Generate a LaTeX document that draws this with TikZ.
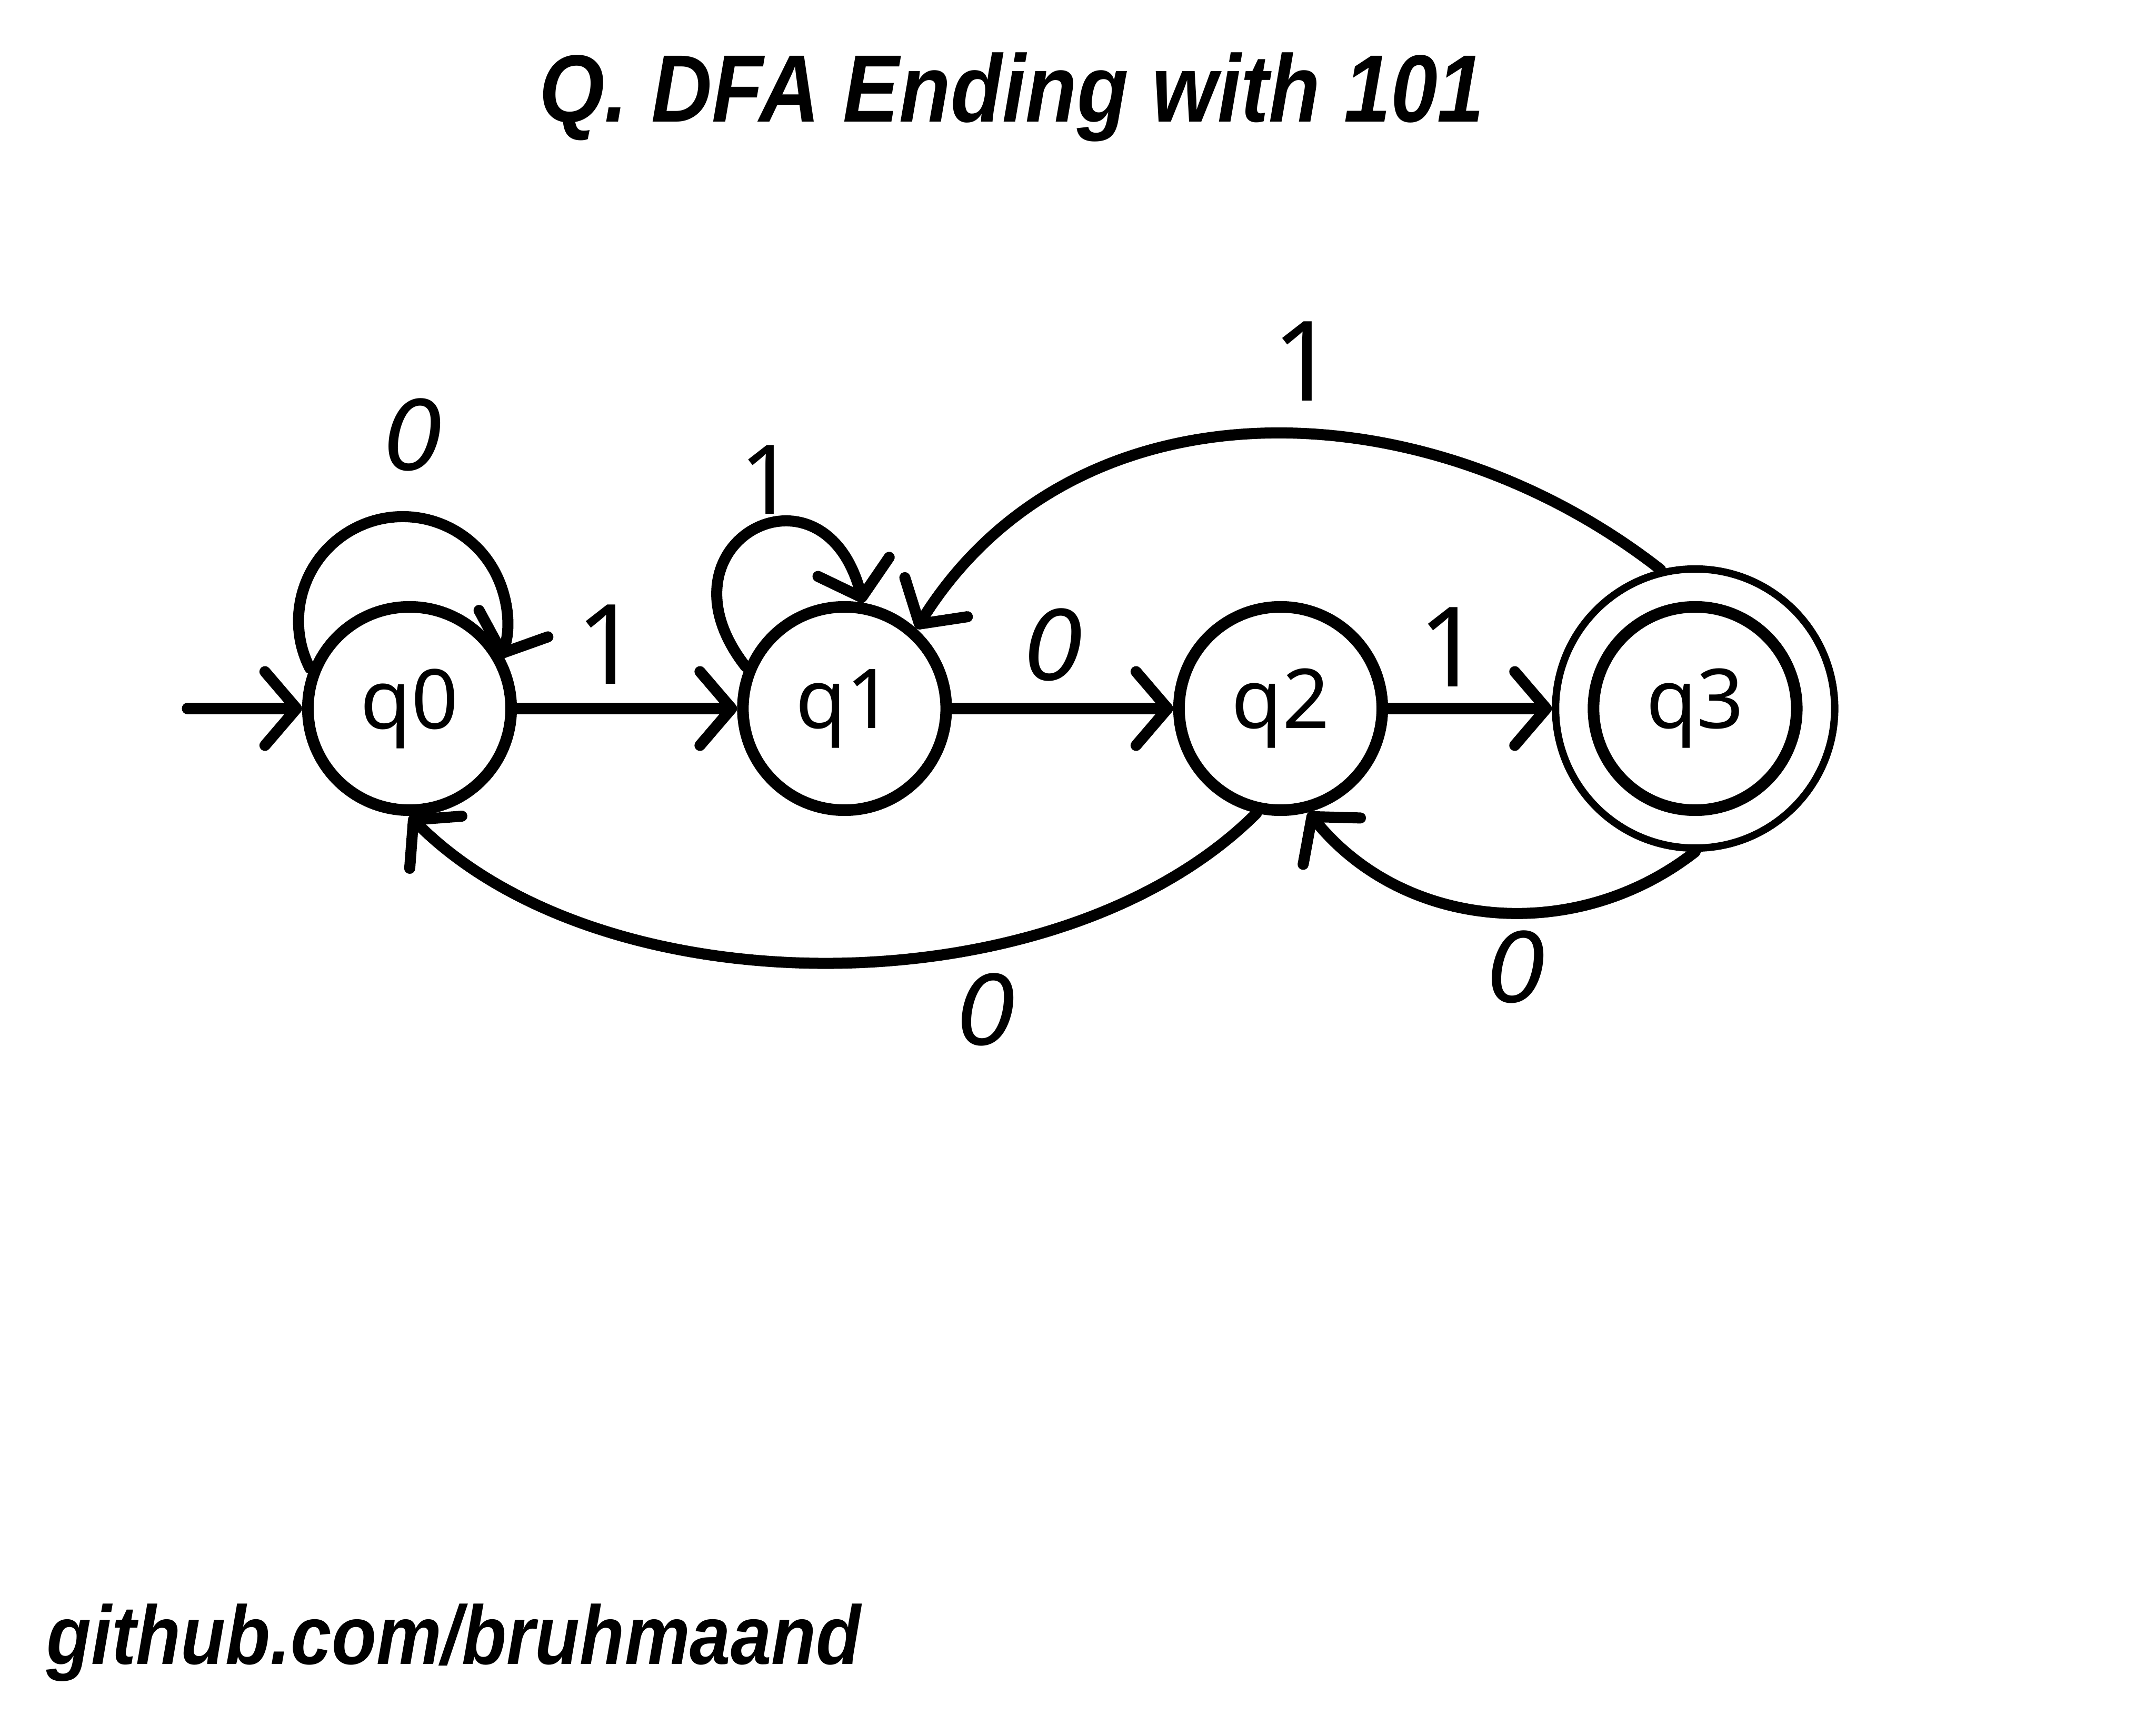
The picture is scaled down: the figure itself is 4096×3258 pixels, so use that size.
\documentclass[tikz,border=0pt]{standalone}
\usepackage{fontspec}
\setmainfont{Noto Sans}
\newfontfamily\titlefont{Liberation Sans}
\newfontfamily\zerofont{DejaVu Sans}
\usetikzlibrary{arrows.meta,positioning}

\begin{document}
\begin{tikzpicture}[
    x=0.01cm, y=0.01cm,
    state/.style={circle, draw, line width=0.22cm, minimum size=3.86cm, inner sep=0pt, font=\fontsize{44.6}{50}\selectfont},
    ring/.style={circle, draw, line width=0.14cm, minimum size=5.3cm, inner sep=0pt},
    arrow/.style={line width=0.21cm, line cap=round, -{Straight Barb[length=0.6cm,width=1.4cm,round]}},
    one/.style={font=\fontsize{60}{66}\selectfont},
    zero/.style={font=\zerofont\itshape\fontsize{52}{60}\selectfont},
    heading/.style={font=\titlefont\bfseries\itshape\fontsize{51.7}{60}\selectfont}
]

% Page
\useasboundingbox (0,0) rectangle (4096,-3258);
\fill[white] (0,0) rectangle (4096,-3258);

% Title
\node[heading, anchor=base] (title) at (1922,-232) {\scalebox{0.88}[1]{Q. DFA Ending with 101}};

% States
\node[state] (q0) at (778,-1346) {q0};
\node[state, right=4.18cm of q0] (q1) {q1};
\node[state, right=4.2cm of q1] (q2) {q2};
\node[state, right=3.79cm of q2] (q3) {q3};
\node[ring] (q3ring) at (q3) {};

% Start
\coordinate (start) at (356,-1346);
\draw[arrow] (start) -- (q0);

% Transitions
\draw[arrow] (q0) -- (q1);
\draw[arrow] (q1) -- (q2);
\draw[arrow] (q2) -- (q3ring);
\draw[arrow] (q0.158) arc[start angle=207, end angle=-21, radius=1.98cm];
\draw[arrow] (q1.157) to[out=128,in=105,looseness=3.0] (q1.80);
\draw[arrow] (q3ring.104) to[out=142,in=58,looseness=1.03] (q1.48);
\draw[arrow] (q2.257) to[out=225,in=-45,looseness=0.84] (q0.270);
\draw[arrow] (q3ring.270) to[out=218,in=-51] (q2.285);

% Labels
\node[zero] (l00) at (788,-826) {0};
\node[one] (l01) at (1155,-1224) {1};
\node[one, font=\fontsize{52}{58}\selectfont] (l11) at (1458,-911) {1};
\node[zero] (l12) at (2005,-1225) {0};
\node[one] (l23) at (2755,-1229) {1};
\node[one] (l31) at (2478,-686) {1};
\node[zero] (l20) at (1877,-1918) {0};
\node[zero] (l32) at (2884,-1837) {0};

% Footer
\node[anchor=base west, font=\titlefont\bfseries\itshape\fontsize{45}{52}\selectfont] (footer) at (76,-3161) {\scalebox{0.88}[1]{github.com/bruhmaand}};

\end{tikzpicture}
\end{document}
